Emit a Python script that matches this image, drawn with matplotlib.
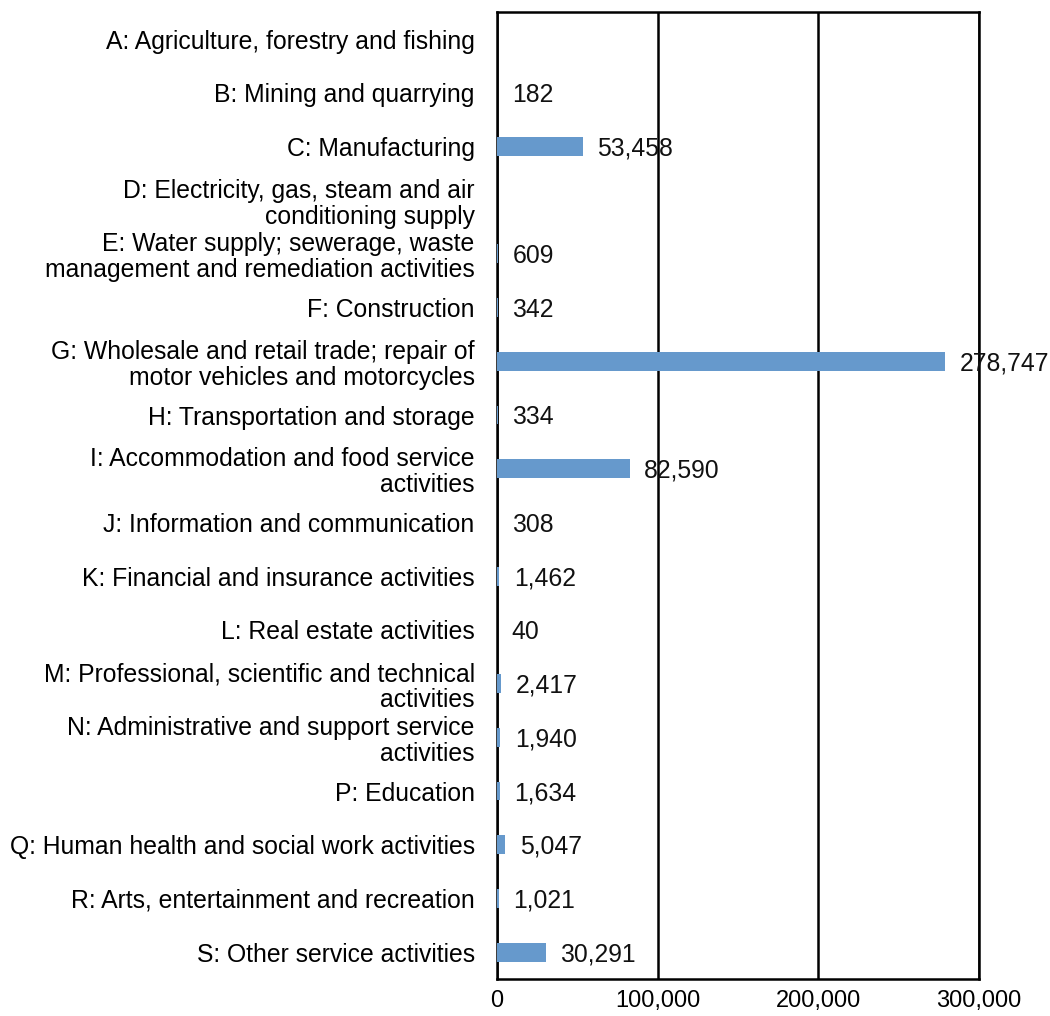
import numpy as np
import matplotlib.pyplot as plt

plt.rcParams['font.family'] = ['Liberation Sans', 'DejaVu Sans']

# industry sections, top to bottom
sections = [
    "A: Agriculture, forestry and fishing",
    "B: Mining and quarrying",
    "C: Manufacturing",
    "D: Electricity, gas, steam and air\nconditioning supply",
    "E: Water supply; sewerage, waste\nmanagement and remediation activities",
    "F: Construction",
    "G: Wholesale and retail trade; repair of\nmotor vehicles and motorcycles",
    "H: Transportation and storage",
    "I: Accommodation and food service\nactivities",
    "J: Information and communication",
    "K: Financial and insurance activities",
    "L: Real estate activities",
    "M: Professional, scientific and technical\nactivities",
    "N: Administrative and support service\nactivities",
    "P: Education",
    "Q: Human health and social work activities",
    "R: Arts, entertainment and recreation",
    "S: Other service activities",
]
# no value shown for A and D
counts = [np.nan, 182, 53458, np.nan, 609, 342, 278747, 334, 82590, 308,
          1462, 40, 2417, 1940, 1634, 5047, 1021, 30291]
xticks = [0, 100000, 200000, 300000]

fig = plt.figure(figsize=(10.5, 10.16), dpi=100)
ax = fig.add_axes([0.4733, 0.0364, 0.4591, 0.9516])

y = np.arange(len(sections))
vals = np.nan_to_num(np.array(counts, dtype=float))
ax.barh(y, vals, height=0.35, color='#6699cc', linewidth=0, zorder=3)

for yi, v in zip(y, counts):
    if np.isnan(v):
        continue
    ax.annotate(f"{int(v):,}", xy=(v, yi), xytext=(10.5, -1.5),
                textcoords='offset points', va='center', ha='left',
                fontsize=17.8, color='#111111', zorder=4)

ax.set_xlim(0, 300000)
ax.set_ylim(len(sections) - 0.5, -0.5)
ax.set_yticks(y)
ax.set_yticklabels(sections, fontsize=17.8, ha='right', linespacing=1.1)
ax.set_xticks(xticks)
ax.set_xticklabels([f"{t:,}" for t in xticks], fontsize=17)
ax.tick_params(axis='both', length=0)
ax.tick_params(axis='y', pad=16)
ax.tick_params(axis='x', pad=8)

ax.grid(axis='x', color='black', linewidth=1.8, zorder=1)
for sp in ax.spines.values():
    sp.set_color('black')
    sp.set_linewidth(1.8)

plt.savefig("out.png", dpi=100)
